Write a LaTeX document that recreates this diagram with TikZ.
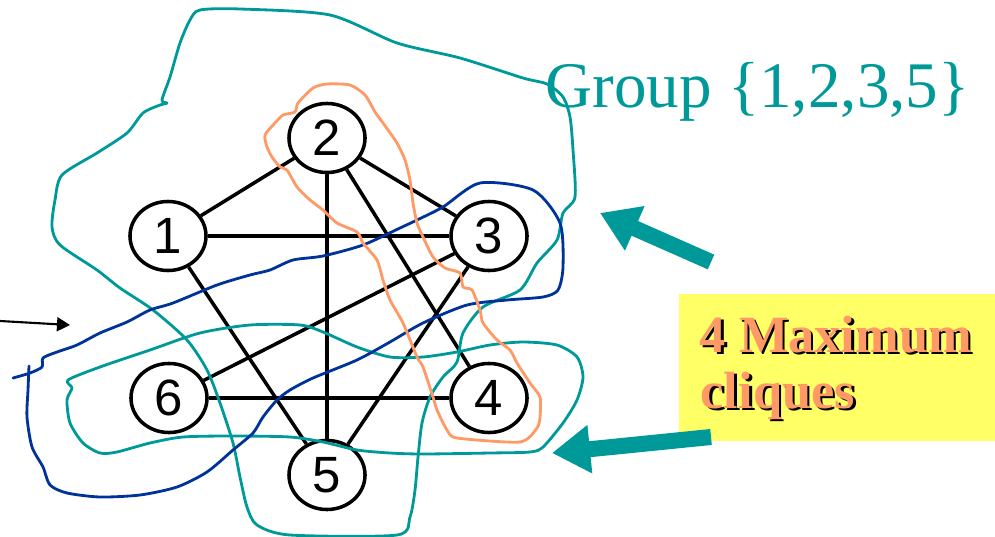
\documentclass[tikz,border=0pt]{standalone}
\usepackage{fontspec}
\setmainfont{Liberation Serif}
\newfontfamily\digitfont{Liberation Sans}
\usetikzlibrary{shapes.geometric,arrows.meta}
\definecolor{cliqueteal}{HTML}{009999}
\definecolor{cliqueblue}{HTML}{003399}
\definecolor{cliqueorange}{HTML}{FF9966}
\definecolor{notefill}{HTML}{FFFF66}
% orange text with a black drop shadow
\newcommand\shadowtext[1]{\rlap{\hspace{0.7pt}\raisebox{-0.7pt}{\color{black}#1}}{\color{cliqueorange}#1}}
\tikzset{
  vertex/.style={ellipse, draw, fill=white, line width=1pt,
    minimum width=0.76cm, minimum height=0.69cm, inner sep=0pt,
    font=\fontsize{14.5pt}{14.5pt}\digitfont},
  edge/.style={line width=1pt},
  hull/.style={line width=0.8pt, line join=round, line cap=round},
  fatarrow/.style={cliqueteal, line width=0.16cm,
    -{Triangle[length=0.38cm,width=0.46cm]}},
  thinarrow/.style={black, line width=0.6pt,
    -{Triangle[length=0.13cm,width=0.14cm]}},
  notetext/.style={anchor=base west, inner sep=0pt,
    font=\fontsize{14.9pt}{16pt}\bfseries},
}
\begin{document}
\begin{tikzpicture}[x=0.01cm,y=-0.01cm]
\useasboundingbox (0,0) rectangle (995,537);

% graph vertices
\node[vertex] (n1) at (168,236) {1};
\node[vertex] (n2) at (327,138) {2};
\node[vertex] (n3) at (489,236) {3};
\node[vertex] (n6) at (169,398) {6};
\node[vertex] (n4) at (489,398) {4};
\node[vertex] (n5) at (327,475) {5};

% graph edges
\draw[edge] (n1) -- (n2);
\draw[edge] (n1) -- (n3);
\draw[edge] (n1) -- (n5);
\draw[edge] (n2) -- (n3);
\draw[edge] (n2) -- (n5);
\draw[edge] (n2) -- (n4);
\draw[edge] (n3) -- (n6);
\draw[edge] (n3) -- (n5);
\draw[edge] (n6) -- (n4);

% clique {1,2,3,5}
\draw[hull, cliqueteal] plot[smooth cycle, tension=0.45] coordinates {
 (200,10) (240,9) (330,15) (397,43) (460,58) (523,78) (547,84) (563,97)
 (570,117) (573,150) (575,197) (563,213) (557,240) (537,263) (520,290)
 (483,307) (463,333) (457,362) (443,377) (430,397) (422,423) (418,457)
 (415,490) (410,517) (397,535) (290,535) (257,525) (247,507) (240,477)
 (233,443) (220,403) (207,370) (187,340) (153,310) (120,288) (97,270)
 (60,245) (52,227) (55,200) (62,175) (97,153) (127,133) (143,113)
 (160,105) (167,103) (162,100) (170,77) (180,43) (190,20)};

% clique {4,6}
\draw[hull, cliqueteal] plot[smooth cycle, tension=0.45] coordinates {
 (68,380) (100,367) (150,350) (200,333) (250,325) (300,325) (323,332)
 (357,347) (390,357) (423,357) (457,352) (490,345) (523,342) (557,345)
 (577,357) (583,377) (577,400) (563,423) (543,447) (530,452) (490,453)
 (423,454) (390,453) (357,450) (323,442) (290,437) (233,436) (183,437)
 (150,443) (117,452) (100,453) (83,443) (70,423) (67,400) (72,388)};

% clique {3,6}
\draw[hull, cliqueblue] plot[smooth, tension=0.45] coordinates {
 (29,366) (28,390) (27,417) (32,447) (43,467) (50,485) (67,493) (100,497)
 (140,495) (177,487) (207,472) (233,450) (253,433) (263,417) (277,400)
 (290,390) (313,378) (357,360) (390,342) (423,323) (467,305) (507,300)
 (543,297) (558,290) (563,267) (560,223) (533,190) (480,183) (443,207)
 (417,220) (400,228) (363,245) (323,256) (293,260) (270,270) (250,275)
 (217,285) (173,303) (150,310) (127,322) (100,333) (77,345) (57,352)
 (43,358) (42,367) (30,373) (13,378)};

% clique {2,4}
\draw[hull, cliqueorange] plot[smooth cycle, tension=0.4] coordinates {
 (265,135) (275,123) (283,115) (295,112) (298,103) (313,88) (327,84)
 (350,85) (365,95) (375,112) (383,123) (397,143) (405,160) (410,180)
 (413,203) (417,223) (423,237) (433,257) (445,268) (460,273) (463,287)
 (472,290) (480,310) (483,323) (497,340) (510,350) (517,363) (530,383)
 (540,397) (540,417) (537,428) (520,442) (457,438) (447,430) (437,410)
 (433,397) (423,367) (417,357) (403,323) (390,300) (383,280) (377,260)
 (363,243) (357,232) (337,223) (323,210) (310,200) (297,187) (287,170)
 (280,167) (272,157) (267,147)};

% group label
\node[anchor=base west, inner sep=0pt, text=cliqueteal,
  font=\fontsize{18.5pt}{20pt}\selectfont] (grouplabel) at (545,108)
  {Group \{1,2,3,5\}};

% note box
\node[fill=notefill, anchor=north west, inner sep=0pt,
  minimum width=3.17cm, minimum height=1.47cm] (notebox) at (678,293) {};
\node[notetext] (noteA) at (699,352) {\shadowtext{4 Maximum}};
\node[notetext] (noteB) at (700,408) {\shadowtext{cliques}};

% pointers
\coordinate (tailA) at (711,262);
\coordinate (tipA) at (600,213);
\coordinate (tailB) at (711,437);
\coordinate (tipB) at (552,453);
\draw[fatarrow] (tailA) -- (tipA);
\draw[fatarrow] (tailB) -- (tipB);

\coordinate (tailC) at (0,321);
\coordinate (tipC) at (70,325);
\draw[thinarrow] (tailC) -- (tipC);
\end{tikzpicture}
\end{document}
